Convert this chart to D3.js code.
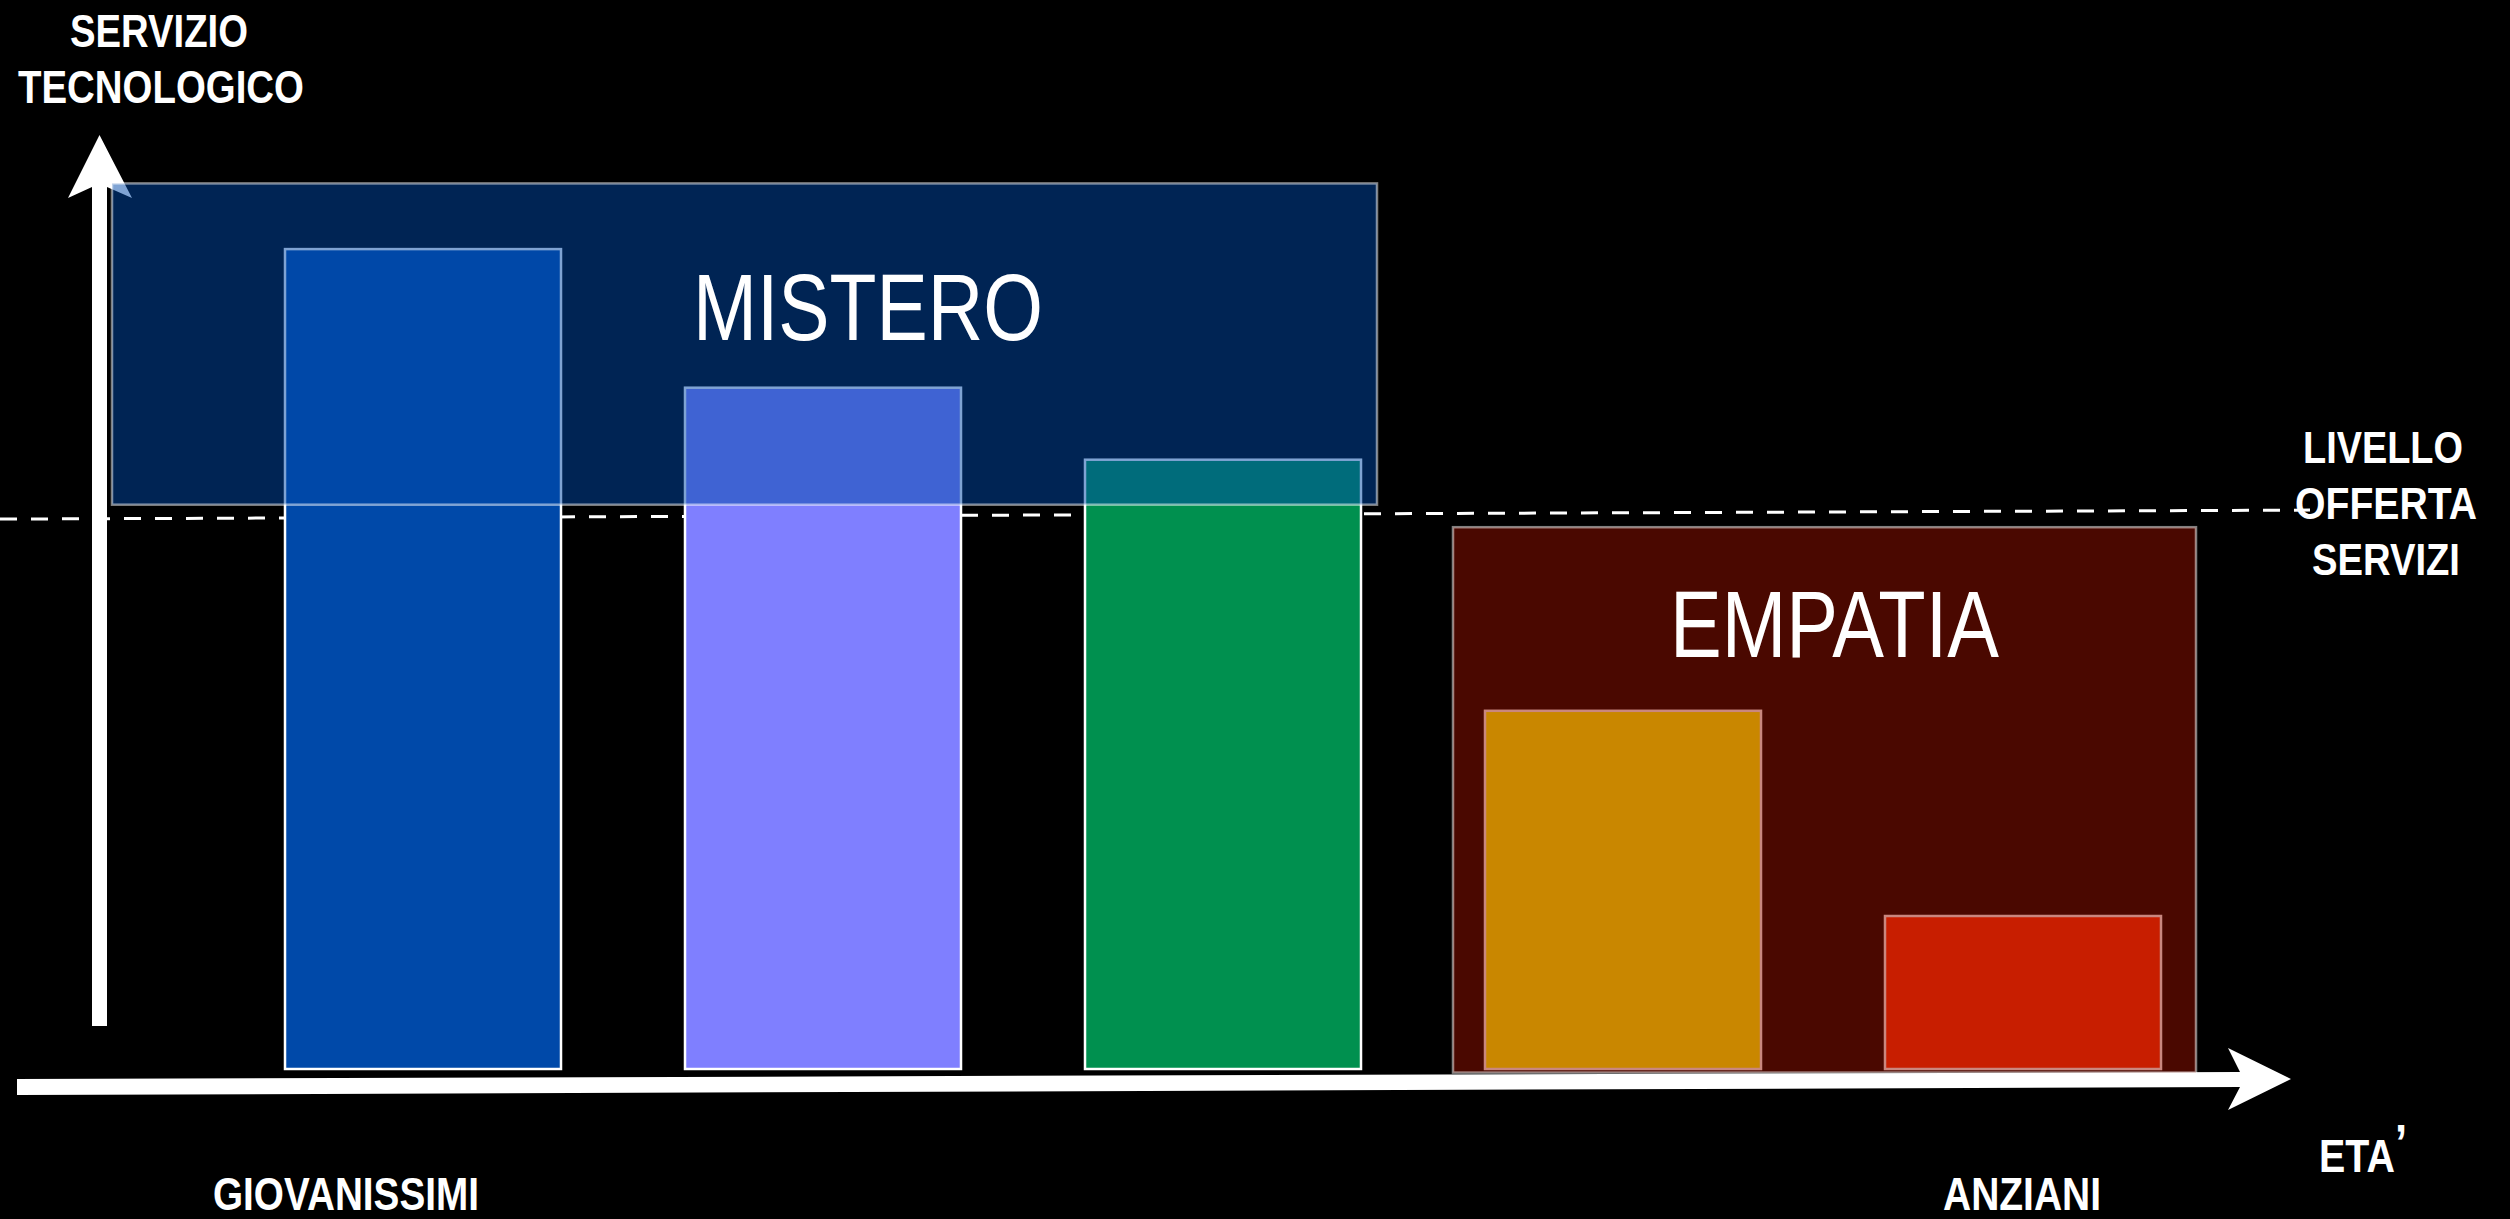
<!DOCTYPE html>
<html>
<head>
<meta charset="utf-8">
<script src="https://cdn.jsdelivr.net/npm/d3@7"></script>
<style>
  html, body { margin: 0; padding: 0; background: #000; overflow: hidden; }
  svg { display: block; }
</style>
</head>
<body>
<script>
// ---------------- DATA ----------------
const categories = ["c1", "c2", "c3", "c4", "c5"];          // age groups, young -> old
const values = [91.1, 75.7, 67.7, 39.8, 17.0];               // "servizio tecnologico" level
const barColors = ["#0049A9", "#7F7FFF", "#00904F", "#FFFF00", "#FC2C00"];
const zoneLabels = ["MISTERO", "EMPATIA"];
const zoneTop = [98.4, 60.2];
const zoneBottom = [62.7, -0.4];
const zoneColors = ["rgb(0,72,168)", "rgb(148,16,0)"];
const offertaLevel = [61.1, 62.1];                           // left end / right end of dashed line
const yAxisTitle = ["SERVIZIO", "TECNOLOGICO"];
const offertaTitle = ["LIVELLO", "OFFERTA", "SERVIZI"];
const xEndLabels = ["GIOVANISSIMI", "ANZIANI"];
const xAxisTitle = ["ETA", "’"];

// ---------------- LAYOUT ----------------
const W = 2510, H = 1219;
const svg = d3.select("body").append("svg").attr("width", W).attr("height", H);
svg.append("rect").attr("width", W).attr("height", H).attr("fill", "#000");

const x = d3.scaleBand().domain(categories).range([285, 2161]).paddingInner(0.31).paddingOuter(0);
const y = d3.scaleLinear().domain([0, 100]).range([1069, 169]);

const narrowBold = "'Liberation Sans Narrow','Arial Narrow','Liberation Sans',Arial,sans-serif";

// dashed "livello offerta servizi" line
svg.append("line")
  .attr("x1", 0).attr("y1", y(offertaLevel[0]))
  .attr("x2", 2310).attr("y2", y(offertaLevel[1]))
  .attr("stroke", "#fff").attr("stroke-width", 3)
  .attr("stroke-dasharray", "17 14");

// y-axis arrow
svg.append("polygon")
  .attr("points", [[92,1026],[92,187],[68,198],[99.5,135],[132,198],[107,187],[107,1026]].map(p => p.join(",")).join(" "))
  .attr("fill", "#fff");

// x-axis arrow
svg.append("polygon")
  .attr("points", [[17,1079],[2240,1072],[2228,1048],[2291,1079],[2228,1110],[2240,1087],[17,1095]].map(p => p.join(",")).join(" "))
  .attr("fill", "#fff");

// bars
svg.append("g").selectAll("rect").data(values).join("rect")
  .attr("x", (d, i) => x(categories[i]))
  .attr("y", d => y(d))
  .attr("width", x.bandwidth())
  .attr("height", d => y(0) - y(d))
  .attr("fill", (d, i) => barColors[i])
  .attr("stroke", "#fff")
  .attr("stroke-width", 2.5);

// zones (semi-transparent overlays)
const zoneX = [[112, 1377], [1453, 2196]];
svg.append("g").selectAll("rect").data(zoneLabels).join("rect")
  .attr("x", (d, i) => zoneX[i][0])
  .attr("y", (d, i) => y(zoneTop[i]))
  .attr("width", (d, i) => zoneX[i][1] - zoneX[i][0])
  .attr("height", (d, i) => y(zoneBottom[i]) - y(zoneTop[i]))
  .attr("fill", (d, i) => zoneColors[i])
  .attr("fill-opacity", 0.5)
  .attr("stroke", "#fff")
  .attr("stroke-opacity", 0.5)
  .attr("stroke-width", 2.5);

// zone labels
const zoneLabelPos = [[693, 340, 350], [1670, 657, 329]];
svg.append("g").selectAll("text").data(zoneLabels).join("text")
  .attr("x", (d, i) => zoneLabelPos[i][0])
  .attr("y", (d, i) => zoneLabelPos[i][1])
  .attr("textLength", (d, i) => zoneLabelPos[i][2])
  .attr("lengthAdjust", "spacingAndGlyphs")
  .attr("font-family", narrowBold)
  .attr("font-size", 95)
  .attr("fill", "#fff")
  .text(d => d);

function boldLabel(txt, xl, yb, len, size) {
  return svg.append("text")
    .attr("x", xl).attr("y", yb)
    .attr("textLength", len).attr("lengthAdjust", "spacingAndGlyphs")
    .attr("font-family", narrowBold).attr("font-weight", "bold")
    .attr("font-size", size).attr("fill", "#fff")
    .text(txt);
}

// y-axis title
boldLabel(yAxisTitle[0], 70, 47, 178, 46);
boldLabel(yAxisTitle[1], 18, 103, 286, 46);

// offerta title
boldLabel(offertaTitle[0], 2303, 463, 160, 45);
boldLabel(offertaTitle[1], 2295, 519, 182, 45);
boldLabel(offertaTitle[2], 2312, 575, 148, 45);

// x end labels
boldLabel(xEndLabels[0], 213, 1210, 266, 47);
boldLabel(xEndLabels[1], 1943, 1210, 158, 47);

// x-axis title ETA’ (single text, raised apostrophe)
const eta = svg.append("text")
  .attr("x", 2319).attr("y", 1172)
  .attr("textLength", 88).attr("lengthAdjust", "spacingAndGlyphs")
  .attr("font-family", narrowBold).attr("font-weight", "bold")
  .attr("font-size", 47).attr("fill", "#fff");
eta.append("tspan").text(xAxisTitle[0]);
eta.append("tspan").attr("dy", -11).attr("font-size", 52).text(xAxisTitle[1]);
</script>
</body>
</html>
